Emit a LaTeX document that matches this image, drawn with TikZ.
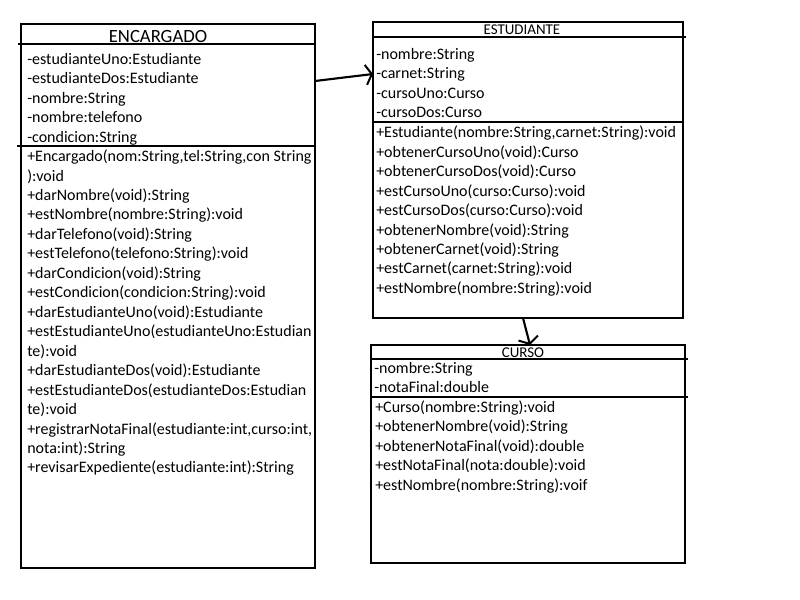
\documentclass[tikz,border=0pt]{standalone}
\usepackage{fontspec}
\setmainfont{Carlito}
\usetikzlibrary{arrows.meta,calc}
\tikzset{
  box/.style={draw, line width=1.5pt, anchor=north west, inner sep=0pt, outer sep=0pt},
  sep/.style={line width=1.5pt},
  txt/.style={anchor=base west, inner sep=0pt, font=\fontsize{12}{14.6}\selectfont},
  bigtitle/.style={inner sep=0pt, font=\fontsize{14}{16}\selectfont},
  smalltitle/.style={inner sep=0pt, font=\fontsize{11.2}{13}\selectfont},
  arr/.style={line width=1.6pt, -{Straight Barb[length=4.5pt,width=15pt,line width=1.5pt]}},
}
\begin{document}
\begin{tikzpicture}[x=0.75pt,y=-0.75pt]
\useasboundingbox (0,0) rectangle (800,600);
% boxes
\node[box, minimum width=220.5pt, minimum height=408pt] (enc) at (21,24) {};
\node[box, minimum width=232.5pt, minimum height=222pt] (est) at (373,22) {};
\node[box, minimum width=235.5pt, minimum height=163.5pt] (cur) at (371,345) {};
% dividers
\draw[sep] (18,44) -- (315,44);
\draw[sep] (17,146) -- (315,146);
\draw[sep] (373,37) -- (686,37);
\draw[sep] (373,122) -- (683,122);
\draw[sep] (371,359) -- (688,359);
\draw[sep] (371,397) -- (688,397);
% titles
\node[bigtitle] (encT) at (158,37) {ENCARGADO};
\node[smalltitle] (estT) at (522,29.5) {ESTUDIANTE};
\node[smalltitle] (curT) at (523,353) {CURSO};
% ENCARGADO attributes
\foreach \t [count=\i from 0] in {{-estudianteUno:Estudiante},{-estudianteDos:Estudiante},{-nombre:String},{-nombre:telefono},{-condicion:String}}
  \node[txt] (encA\i) at (27,64+\i*19.5) {\t};
% ENCARGADO methods
\foreach \t [count=\i from 0] in {{+Encargado(nom:String,tel:String,con String},{):void},{+darNombre(void):String},{+estNombre(nombre:String):void},{+darTelefono(void):String},{+estTelefono(telefono:String):void},{+darCondicion(void):String},{+estCondicion(condicion:String):void},{+darEstudianteUno(void):Estudiante},{+estEstudianteUno(estudianteUno:Estudian},{te):void},{+darEstudianteDos(void):Estudiante},{+estEstudianteDos(estudianteDos:Estudian},{te):void},{+registrarNotaFinal(estudiante:int,curso:int,},{nota:int):String},{+revisarExpediente(estudiante:int):String}}
  \node[txt] (encM\i) at (27,161.6+\i*19.46) {\t};
% ESTUDIANTE attributes
\foreach \t [count=\i from 0] in {{-nombre:String},{-carnet:String},{-cursoUno:Curso},{-cursoDos:Curso}}
  \node[txt] (estA\i) at (376,59+\i*19.5) {\t};
% ESTUDIANTE methods
\foreach \t [count=\i from 0] in {{+Estudiante(nombre:String,carnet:String):void},{+obtenerCursoUno(void):Curso},{+obtenerCursoDos(void):Curso},{+estCursoUno(curso:Curso):void},{+estCursoDos(curso:Curso):void},{+obtenerNombre(void):String},{+obtenerCarnet(void):String},{+estCarnet(carnet:String):void},{+estNombre(nombre:String):void}}
  \node[txt] (estM\i) at (376,137.7+\i*19.46) {\t};
% CURSO attributes
\foreach \t [count=\i from 0] in {{-nombre:String},{-notaFinal:double}}
  \node[txt] (curA\i) at (374,373+\i*19.5) {\t};
% CURSO methods
\foreach \t [count=\i from 0] in {{+Curso(nombre:String):void},{+obtenerNombre(void):String},{+obtenerNotaFinal(void):double},{+estNotaFinal(nota:double):void},{+estNombre(nombre:String):voif}}
  \node[txt] (curM\i) at (375,412+\i*19.55) {\t};
% connectors
\draw[arr] ($(enc.north east)+(0,57)$) -- ($(est.north west)+(0,52)$);
\draw[arr] ($(est.south)+(-5,0)$) -- ($(cur.north)+(2,0)$);
\end{tikzpicture}
\end{document}
